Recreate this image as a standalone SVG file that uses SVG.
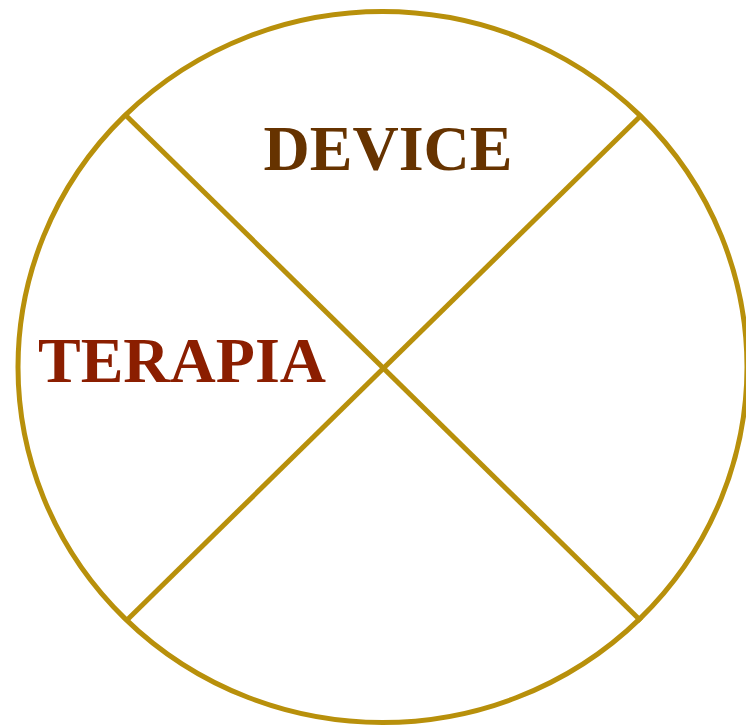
<svg xmlns="http://www.w3.org/2000/svg" width="746" height="727" viewBox="0 0 746 727">
<style>
.ln{fill:none;stroke:#B8900B;stroke-width:5}
.lbl{font-family:"Liberation Serif","Times New Roman",serif;font-weight:bold;font-size:64px;text-anchor:middle}
</style>
<rect width="746" height="727" fill="#fff"/>
<g id="circle"><ellipse class="ln" cx="382.5" cy="367" rx="364.5" ry="355.5"/></g>
<g id="connectors">
<line class="ln" x1="126" y1="115.5" x2="641" y2="621"/>
<line class="ln" x1="641" y1="115.5" x2="126" y2="621"/>
</g>
<g id="device"><text class="lbl" x="388" y="170" fill="#663300">DEVICE</text></g>
<g id="terapia"><text class="lbl" x="182" y="382" fill="#8B1E00">TERAPIA</text></g>
</svg>
